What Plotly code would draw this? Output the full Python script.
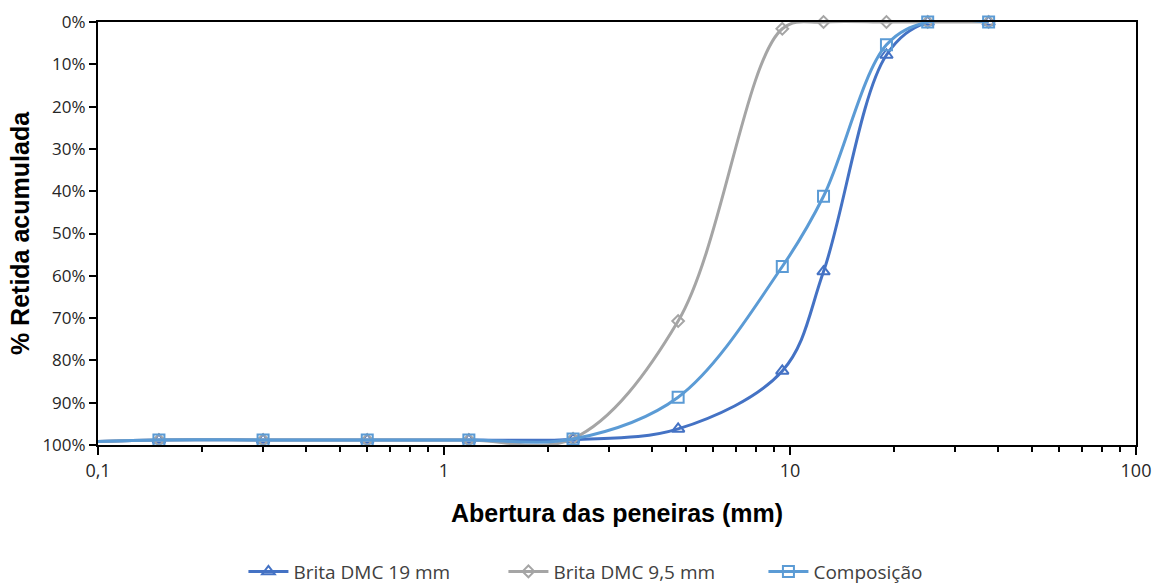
import plotly.graph_objects as go

sieves = [0.075, 0.15, 0.3, 0.6, 1.18, 2.36, 4.75, 9.5, 12.5, 19, 25, 37.5]
brita19 = [0.995, 0.988, 0.988, 0.988, 0.988, 0.987, 0.962, 0.825, 0.59, 0.078, 0.0, 0.0]
brita95 = [0.995, 0.988, 0.988, 0.988, 0.988, 0.985, 0.707, 0.016, 0.0, 0.0, 0.0, 0.0]
composicao = [0.995, 0.988, 0.988, 0.988, 0.988, 0.986, 0.887, 0.578, 0.412, 0.054, 0.0, 0.0]

x_tickvals = [0.1, 1, 10, 100]
x_ticktext = ["0,1", "1", "10", "100"]
minor_vals = [m * d for d in (0.1, 1, 10) for m in range(2, 10)]
y_tickvals = [i / 10 for i in range(11)]
y_ticktext = [f"{i*10}%" for i in range(11)]

font_family = "Open Sans, Noto Sans, sans-serif"

fig = go.Figure()
series = [
    ("Brita DMC 19 mm", brita19, "#4472C4", "triangle-up-open", 11),
    ("Brita DMC 9,5 mm", brita95, "#A5A5A5", "diamond-open", 9),
    ("Composição", composicao, "#5B9BD5", "square-open", 11),
]
for name, vals, color, sym, size in series:
    fig.add_trace(go.Scatter(
        x=sieves, y=vals, name=name, mode="lines+markers",
        line=dict(color=color, width=3, shape="spline", smoothing=1.0),
        marker=dict(symbol=sym, size=size, color=color, line=dict(width=2, color=color)),
        cliponaxis=False,
    ))

fig.update_layout(
    width=1158, height=588,
    margin=dict(l=98, r=22, t=22, b=143, autoexpand=False),
    paper_bgcolor="white", plot_bgcolor="white",
    font=dict(family=font_family, size=16, color="#262626"),
    showlegend=True,
    legend=dict(orientation="h", x=0.547, xanchor="center", xref="container",
                y=0.028, yanchor="middle", yref="container",
                font=dict(size=19, color="#404040"), itemwidth=40,
                entrywidth=205, entrywidthmode="pixels",
                tracegroupgap=0),
)
fig.update_xaxes(
    type="log", range=[-1, 2], automargin=False,
    tickvals=x_tickvals, ticktext=x_ticktext,
    ticks="outside", ticklen=8, tickwidth=2, tickcolor="black",
    showline=True, linecolor="black", linewidth=2, mirror=True,
    showgrid=False, zeroline=False,
    minor=dict(tickvals=minor_vals, ticks="outside", ticklen=5, tickwidth=2, tickcolor="black", showgrid=False),
    tickfont=dict(size=18, color="#262626"),
    title=dict(text="<b>Abertura das peneiras (mm)</b>", font=dict(family="Liberation Sans, Arial", size=25, color="black"), standoff=24),
)
fig.update_yaxes(
    range=[1, 0], automargin=False,
    tickvals=y_tickvals, ticktext=y_ticktext,
    ticks="outside", ticklen=7, tickwidth=2, tickcolor="black",
    showline=True, linecolor="black", linewidth=2, mirror=True,
    showgrid=False, zeroline=False,
    tickfont=dict(size=17, color="#262626"),
    title=dict(text="<b>% Retida acumulada</b>", font=dict(family="Liberation Sans, Arial", size=25, color="black"), standoff=6),
)

fig.write_html("out.html")
